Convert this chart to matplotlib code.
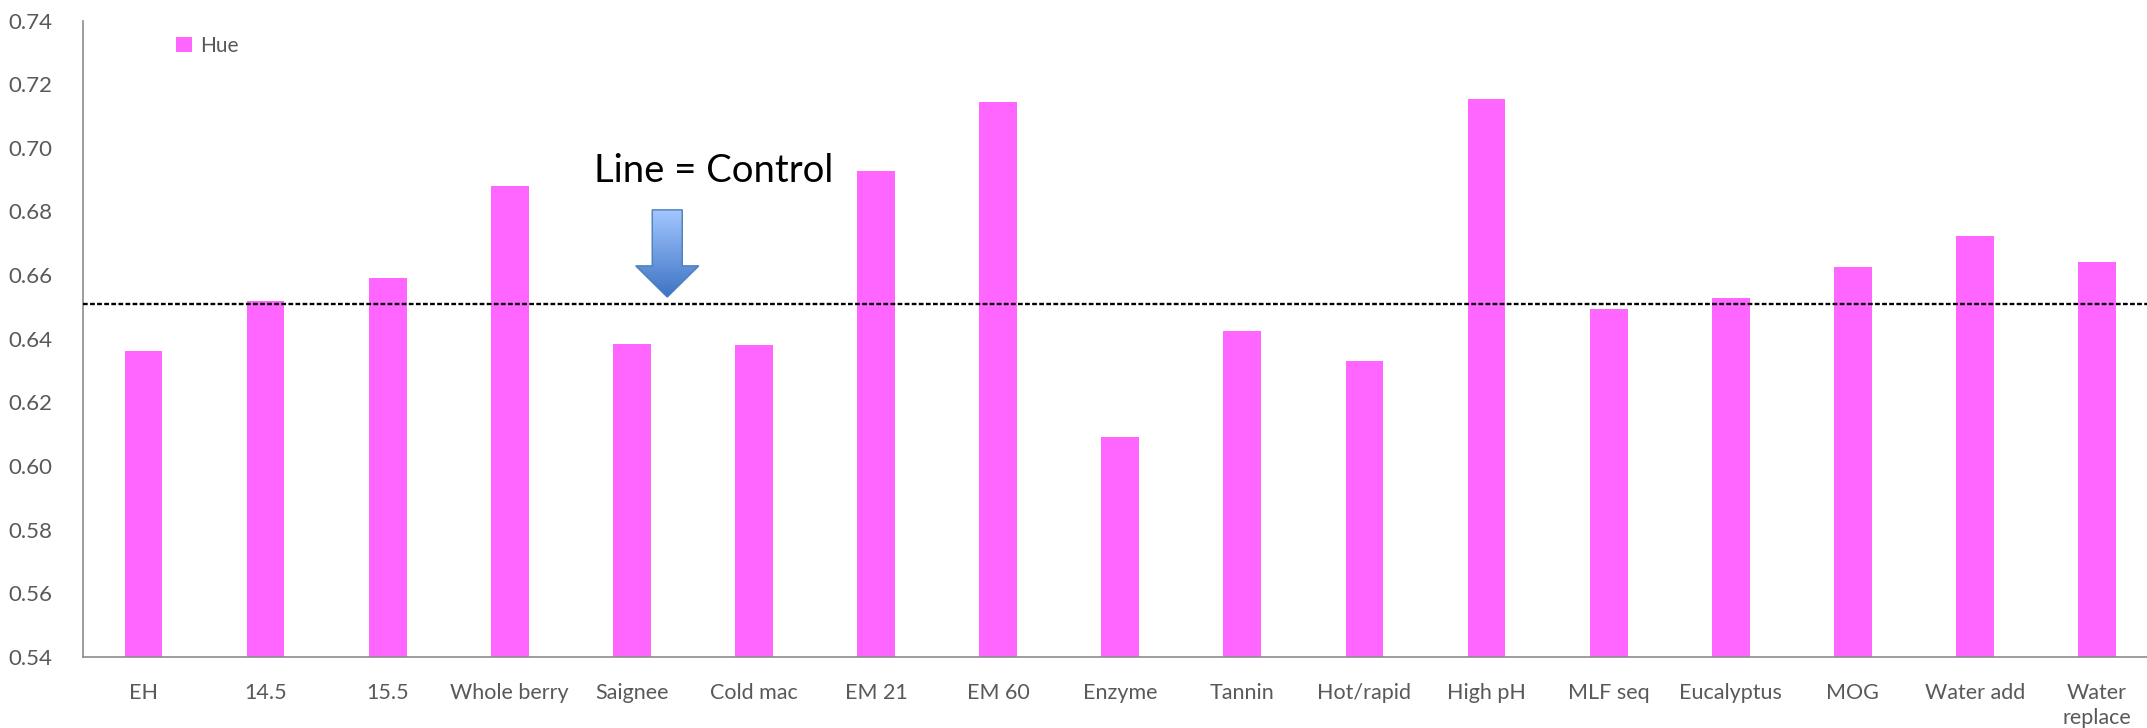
import matplotlib
matplotlib.use('Agg')
import matplotlib.pyplot as plt
import numpy as np
from matplotlib.patches import Polygon
from matplotlib.colors import LinearSegmentedColormap

# data
categories = ['EH', '14.5', '15.5', 'Whole berry', 'Saignee', 'Cold mac', 'EM 21',
              'EM 60', 'Enzyme', 'Tannin', 'Hot/rapid', 'High pH', 'MLF seq',
              'Eucalyptus', 'MOG', 'Water add', 'Water\nreplace']
hue = [0.6363, 0.6518, 0.6590, 0.6879, 0.6382, 0.6381, 0.6926,
       0.7143, 0.6092, 0.6425, 0.6329, 0.7153, 0.6492,
       0.6527, 0.6626, 0.6724, 0.6640]
control = 0.651
y_ticks = [0.54, 0.56, 0.58, 0.60, 0.62, 0.64, 0.66, 0.68, 0.70, 0.72, 0.74]

plt.rcParams['font.family'] = ['Lato', 'DejaVu Sans']

fig = plt.figure(figsize=(21.47, 7.28), dpi=100)
ax = fig.add_axes([83 / 2147, 71 / 728, 1 - 83 / 2147, 636.5 / 728])

x = np.arange(len(categories))
ax.bar(x, hue, width=0.31, color='#ff66ff', label='Hue', zorder=2)
ax.axhline(control, color='black', lw=1.7, ls=(0, (2, 1)), zorder=3)

ax.set_ylim(0.54, 0.74)
ax.set_xlim(-0.495, -0.495 + (2147 - 83) / 122.1)
ax.set_yticks(y_ticks)
ax.set_yticklabels([f'{v:.2f}' for v in y_ticks])
ax.set_xticks(x)
ax.set_xticklabels(categories, linespacing=1.3)
ax.tick_params(axis='both', length=0, labelcolor='#595959')
ax.tick_params(axis='x', pad=19, labelsize=15.5)
ax.tick_params(axis='y', pad=22, labelsize=16)

for side in ['top', 'right']:
    ax.spines[side].set_visible(False)
for side in ['left', 'bottom']:
    ax.spines[side].set_color('#8c8c8c')
    ax.spines[side].set_linewidth(1.2)

leg = ax.legend(loc='center left', bbox_to_anchor=(0.036, 0.96), frameon=False,
                fontsize=15, handlelength=0.75, handleheight=0.75, handletextpad=0.4,
                labelcolor='#595959')

# annotation: text + gradient arrow pointing at control line
ax.text(4.67, 0.6927, 'Line = Control', fontsize=27.5, color='black',
        ha='center', va='center')
ax_x, shaft_w, head_w = 4.29, 0.123, 0.258
top, neck, tip = 0.6805, 0.6629, 0.6531
arrow = Polygon([(ax_x - shaft_w, top), (ax_x + shaft_w, top), (ax_x + shaft_w, neck),
                 (ax_x + head_w, neck), (ax_x, tip), (ax_x - head_w, neck),
                 (ax_x - shaft_w, neck)], closed=True, facecolor='none',
                edgecolor='#4a7ebb', lw=1.0, zorder=5)
ax.add_patch(arrow)
cmap = LinearSegmentedColormap.from_list('blu', ['#3d74c4', '#a3c7ff'])
grad = np.linspace(0, 1, 100).reshape(-1, 1)
im = ax.imshow(grad, cmap=cmap, aspect='auto', origin='lower',
               extent=(ax_x - head_w, ax_x + head_w, tip, top), zorder=4)
im.set_clip_path(arrow)
ax.set_xlim(-0.495, -0.495 + (2147 - 83) / 122.1)
ax.set_ylim(0.54, 0.74)

fig.savefig('out.png', dpi=100)
